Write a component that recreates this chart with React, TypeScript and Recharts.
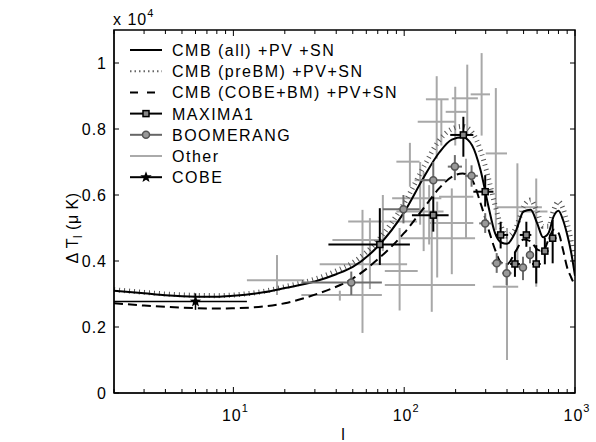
import React from "react";
import {
  ComposedChart,
  Line,
  Scatter,
  ErrorBar,
  XAxis,
  YAxis,
} from "recharts";

// model curves, sampled at these multipoles
const curveL = [2, 3, 4, 6, 8, 10, 15, 20, 30, 40, 50, 70, 100, 130, 160, 190, 220, 250, 280, 310, 340, 370, 400, 450, 500, 550, 600, 650, 700, 750, 800, 850, 900, 950, 1000];
const cmbAll = [3100, 3020, 2960, 2920, 2920, 2950, 3050, 3180, 3380, 3600, 3820, 4440, 5480, 6530, 7280, 7680, 7750, 7500, 6750, 5700, 4850, 4560, 4520, 4900, 5500, 5550, 5150, 4720, 4850, 5350, 5520, 5250, 4800, 4250, 3550];
const cmbPreBM = [3130, 3050, 3000, 2960, 2950, 2970, 3080, 3220, 3450, 3700, 3950, 4620, 5750, 6850, 7650, 8000, 8080, 7900, 7350, 6550, 5700, 5050, 4750, 5000, 5650, 5850, 5500, 5050, 5050, 5550, 5800, 5600, 5150, 4600, 3900];
const cmbCobeBM = [2720, 2650, 2610, 2570, 2560, 2570, 2620, 2720, 2980, 3220, 3470, 4050, 4850, 5600, 6200, 6550, 6650, 6450, 5750, 5000, 4350, 3950, 3900, 4300, 4650, 4600, 4350, 4300, 4650, 4950, 4850, 4350, 3800, 3500, 3250];

// MAXIMA1
const maxL = [72, 148, 222, 298, 367, 445, 519, 593, 666, 740];
const maxV = [4500, 5390, 7820, 6100, 4790, 3910, 4790, 3910, 4300, 4690];
const maxLLo = [36, 111, 186, 254, 340, 417, 475, 560, 630, 700];
const maxLHi = [108, 182, 254, 333, 406, 476, 555, 630, 700, 780];
const maxVLo = [3880, 4890, 7160, 5650, 4380, 3520, 4430, 3320, 3900, 3930];
const maxVHi = [5600, 5950, 8370, 6600, 5190, 4280, 5190, 4480, 4700, 5240];

// BOOMERANG
const boomL = [49, 99, 148, 198, 248, 298, 348, 398, 496, 545];
const boomV = [3350, 5570, 6450, 6860, 6580, 5140, 3930, 3630, 3800, 4180];
const boomLLo = [25, 75, 125, 180, 228, 275, 325, 375, 470, 520];
const boomLHi = [74, 123, 175, 218, 270, 325, 375, 425, 520, 570];
const boomVLo = [2970, 5140, 5940, 6450, 6250, 4850, 3640, 3270, 3420, 3930];
const boomVHi = [3680, 6000, 7000, 7210, 6900, 5450, 4240, 3940, 4130, 4430];

// Other experiments
const otherL = [18, 42, 57, 63, 75, 94, 145, 108, 124, 130, 140, 155, 165, 199, 234, 284, 344, 156, 190, 400, 460, 593, 230];
const otherV = [3420, 2970, 3900, 4640, 5200, 3700, 3270, 7010, 6450, 5500, 5900, 8900, 8220, 8520, 8930, 9050, 7260, 4690, 5150, 3220, 5630, 5500, 5950];
const otherLLo = [12, 25, 32, 38, 47, 77, 77, 90, 115, 90, 85, 134, 120, 175, 190, 245, 300, 95, 140, 330, 344, 480, 160];
const otherLHi = [26, 74, 104, 75, 119, 120, 260, 123, 151, 170, 165, 182, 200, 232, 270, 318, 400, 260, 254, 465, 640, 690, 254];
const otherVLo = [2970, 2800, 1820, 3150, 4300, 2500, 2460, 6250, 5100, 4300, 4500, 7100, 7500, 7500, 7800, 7800, 4940, 3500, 3600, 1000, 4000, 3220, 4700];
const otherVHi = [4180, 3100, 5550, 5300, 6000, 5000, 5500, 7580, 7000, 6700, 6300, 9600, 8900, 9280, 9950, 10300, 9240, 5800, 6200, 5000, 6960, 6500, 7100];

// COBE
const cobeL = [6];
const cobeV = [2770];
const cobeLLo = [2];
const cobeLHi = [12];
const cobeVLo = [2520];
const cobeVHi = [3020];

const xTicks = [2, 3, 4, 5, 6, 7, 8, 9, 10, 20, 30, 40, 50, 60, 70, 80, 90, 100, 200, 300, 400, 500, 600, 700, 800, 900, 1000];
const yTicks = [0, 2000, 4000, 6000, 8000, 10000];

const X_MIN = 2;
const X_MAX = 1000;
const Y_MAX = 11000;

// plot box in pixels (margins + axis sizes below)
const BOX = { left: 114, right: 575, top: 30, bottom: 393 };

const FONT = "'Liberation Sans', Arial, Helvetica, sans-serif";

const curve = (vals: number[]) => curveL.map((l, i) => ({ l, v: vals[i] }));

const points = (
  L: number[], V: number[], lLo: number[], lHi: number[], vLo: number[], vHi: number[]
) =>
  L.map((l, i) => ({
    l,
    v: V[i],
    ex: [l - lLo[i], lHi[i] - l],
    ey: [V[i] - vLo[i], vHi[i] - V[i]],
  }));

const isDecade = (v: number) => Math.abs(Math.log10(v) - Math.round(Math.log10(v))) < 1e-9;

const BottomTick = (props: any) => {
  const { x, y, payload } = props;
  const v = payload.value;
  const dec = isDecade(v);
  return (
    <g>
      <line x1={x} x2={x} y1={y} y2={y - (dec ? 6 : 4)} stroke="#000" />
      {dec && v > 2 && (
        <text x={x + 2} y={y + 28} textAnchor="middle" fontSize={16} fontFamily={FONT} fill="#000" letterSpacing={1}>
          10
          <tspan dy={-9} fontSize={11}>{Math.round(Math.log10(v))}</tspan>
        </text>
      )}
    </g>
  );
};

const LeftTick = (props: any) => {
  const { x, y, payload } = props;
  const v = payload.value / 10000;
  return (
    <g>
      <line x1={x} x2={x + 5} y1={y} y2={y} stroke="#000" />
      <text x={x - 7} y={y + 6} textAnchor="end" fontSize={16} fontFamily={FONT} fill="#000" letterSpacing={1}>
        {v === 0 ? "0" : v === 1 ? "1" : String(v)}
      </text>
    </g>
  );
};

const Square = (props: any) => {
  const { cx, cy } = props;
  if (cx == null || cy == null) return <g />;
  return <rect x={cx - 3} y={cy - 3} width={6} height={6} fill="#888" stroke="#000" strokeWidth={1.5} />;
};

const Circle = (props: any) => {
  const { cx, cy } = props;
  if (cx == null || cy == null) return <g />;
  return <circle cx={cx} cy={cy} r={3.5} fill="#999" stroke="#555" strokeWidth={1.5} />;
};

const starPath = (cx: number, cy: number, r: number) => {
  const pts: string[] = [];
  for (let i = 0; i < 10; i++) {
    const rr = i % 2 === 0 ? r : r * 0.42;
    const a = -Math.PI / 2 + (i * Math.PI) / 5;
    pts.push(`${cx + rr * Math.cos(a)},${cy + rr * Math.sin(a)}`);
  }
  return "M" + pts.join("L") + "Z";
};

const Star = (props: any) => {
  const { cx, cy } = props;
  if (cx == null || cy == null) return <g />;
  return <path d={starPath(cx, cy, 6)} fill="#000" />;
};

const Nothing = () => <g />;

const legendRows = [
  { label: "CMB (all) +PV +SN", kind: "solid" },
  { label: "CMB (preBM) +PV+SN", kind: "dotted" },
  { label: "CMB (COBE+BM) +PV+SN", kind: "dashed" },
  { label: "MAXIMA1", kind: "maxima" },
  { label: "BOOMERANG", kind: "boom" },
  { label: "Other", kind: "other" },
  { label: "COBE", kind: "cobe" },
];

function LegendSample({ kind, y }: { kind: string; y: number }) {
  const x1 = 130;
  const x2 = 162;
  const mid = (x1 + x2) / 2;
  switch (kind) {
    case "solid":
      return <line x1={x1} x2={x2} y1={y} y2={y} stroke="#000" strokeWidth={2} />;
    case "dotted":
      return <line x1={x1} x2={x2} y1={y} y2={y} stroke="#666" strokeWidth={2} strokeDasharray="1.5 3" />;
    case "dashed":
      return <line x1={x1} x2={x2} y1={y} y2={y} stroke="#000" strokeWidth={2} strokeDasharray="8 9" />;
    case "maxima":
      return (
        <g>
          <line x1={x1} x2={x2} y1={y} y2={y} stroke="#000" strokeWidth={2} />
          <Square cx={mid} cy={y} />
        </g>
      );
    case "boom":
      return (
        <g>
          <line x1={x1} x2={x2} y1={y} y2={y} stroke="#666" strokeWidth={2} />
          <Circle cx={mid} cy={y} />
        </g>
      );
    case "other":
      return <line x1={x1} x2={x2} y1={y} y2={y} stroke="#aaa" strokeWidth={2} />;
    default:
      return (
        <g>
          <line x1={x1} x2={x2} y1={y} y2={y} stroke="#000" strokeWidth={2} />
          <Star cx={mid} cy={y} />
        </g>
      );
  }
}

// full MATLAB-style box with inward ticks on the top and right edges
function BoxEdges() {
  const xPos = (t: number) =>
    BOX.left + ((Math.log10(t) - Math.log10(X_MIN)) / (Math.log10(X_MAX) - Math.log10(X_MIN))) * (BOX.right - BOX.left);
  const yPos = (t: number) => BOX.bottom - (t / Y_MAX) * (BOX.bottom - BOX.top);
  return (
    <g>
      <rect
        x={BOX.left}
        y={BOX.top}
        width={BOX.right - BOX.left}
        height={BOX.bottom - BOX.top}
        fill="none"
        stroke="#000000"
        strokeWidth={1.5}
      />
      {xTicks.map((t) => (
        <line
          key={`t${t}`}
          x1={xPos(t)}
          x2={xPos(t)}
          y1={BOX.top}
          y2={BOX.top + (isDecade(t) ? 6 : 4)}
          stroke="#000000"
          strokeWidth={1}
        />
      ))}
      {yTicks.map((t) => (
        <line
          key={`r${t}`}
          x1={BOX.right}
          x2={BOX.right - 5}
          y1={yPos(t)}
          y2={yPos(t)}
          stroke="#000000"
          strokeWidth={1}
        />
      ))}
    </g>
  );
}

export default function App() {
  const allData = curve(cmbAll);
  const preData = curve(cmbPreBM);
  const cobeBmData = curve(cmbCobeBM);
  const maxData = points(maxL, maxV, maxLLo, maxLHi, maxVLo, maxVHi);
  const boomData = points(boomL, boomV, boomLLo, boomLHi, boomVLo, boomVHi);
  const otherData = points(otherL, otherV, otherLLo, otherLHi, otherVLo, otherVHi);
  const cobeData = points(cobeL, cobeV, cobeLLo, cobeLHi, cobeVLo, cobeVHi);

  return (
    <div style={{ position: "absolute", left: 0, top: 0, width: 596, height: 442, background: "#fff" }}>
      <ComposedChart width={596} height={442} margin={{ top: 30, right: 21, bottom: 19, left: 64 }}>
        <XAxis
          dataKey="l"
          type="number"
          scale="log"
          domain={[X_MIN, X_MAX]}
          allowDataOverflow
          ticks={xTicks}
          interval={0}
          tick={<BottomTick />}
          tickSize={0}
          tickMargin={0}
          tickLine={false}
          axisLine={{ stroke: "#000" }}
          height={30}
        />
        <YAxis
          dataKey="v"
          type="number"
          domain={[0, Y_MAX]}
          allowDataOverflow
          ticks={yTicks}
          interval={0}
          tick={<LeftTick />}
          tickSize={0}
          tickMargin={0}
          tickLine={false}
          axisLine={{ stroke: "#000" }}
          width={50}
        />

        <Scatter data={otherData} dataKey="v" shape={<Nothing />} isAnimationActive={false}>
          <ErrorBar dataKey="ex" direction="x" width={0} stroke="#a8a8a8" strokeWidth={2} />
          <ErrorBar dataKey="ey" direction="y" width={0} stroke="#a8a8a8" strokeWidth={2} />
        </Scatter>

        <Line data={preData} dataKey="v" type="monotone" stroke="#555" strokeWidth={5} strokeDasharray="1 4" dot={false} isAnimationActive={false} />
        <Line data={cobeBmData} dataKey="v" type="monotone" stroke="#000" strokeWidth={2} strokeDasharray="9 5" dot={false} isAnimationActive={false} />
        <Line data={allData} dataKey="v" type="monotone" stroke="#000" strokeWidth={2} dot={false} isAnimationActive={false} />

        <Scatter data={boomData} dataKey="v" shape={<Circle />} isAnimationActive={false}>
          <ErrorBar dataKey="ex" direction="x" width={0} stroke="#6e6e6e" strokeWidth={2} />
          <ErrorBar dataKey="ey" direction="y" width={0} stroke="#6e6e6e" strokeWidth={2} />
        </Scatter>
        <Scatter data={maxData} dataKey="v" shape={<Square />} isAnimationActive={false}>
          <ErrorBar dataKey="ex" direction="x" width={0} stroke="#000" strokeWidth={2} />
          <ErrorBar dataKey="ey" direction="y" width={0} stroke="#000" strokeWidth={2} />
        </Scatter>
        <Scatter data={cobeData} dataKey="v" shape={<Star />} isAnimationActive={false}>
          <ErrorBar dataKey="ex" direction="x" width={0} stroke="#000" strokeWidth={1.5} />
          <ErrorBar dataKey="ey" direction="y" width={0} stroke="#000" strokeWidth={1.5} />
        </Scatter>
      </ComposedChart>

      <svg
        width={596}
        height={442}
        style={{ position: "absolute", left: 0, top: 0, pointerEvents: "none", zIndex: 10 }}
        fontFamily={FONT}
      >
        <BoxEdges />
        <text x={113} y={25} fontSize={16} fill="#000" letterSpacing={1}>
          x 10
          <tspan dy={-8} fontSize={11}>4</tspan>
        </text>
        <text transform="translate(78,228) rotate(-90)" textAnchor="middle" fontSize={16} fill="#000" letterSpacing={0.5}>
          Δ T
          <tspan dy={4} fontSize={12}>l</tspan>
          <tspan dy={-4}> (μ K)</tspan>
        </text>
        <text x={343} y={440} textAnchor="middle" fontSize={16} fill="#000">
          l
        </text>
        {legendRows.map((r, i) => {
          const y = 50 + i * 21.2;
          return (
            <g key={r.label}>
              <LegendSample kind={r.kind} y={y} />
              <text x={172} y={y + 6} fontSize={16} fill="#000" letterSpacing={1.5}>
                {r.label}
              </text>
            </g>
          );
        })}
      </svg>
    </div>
  );
}
